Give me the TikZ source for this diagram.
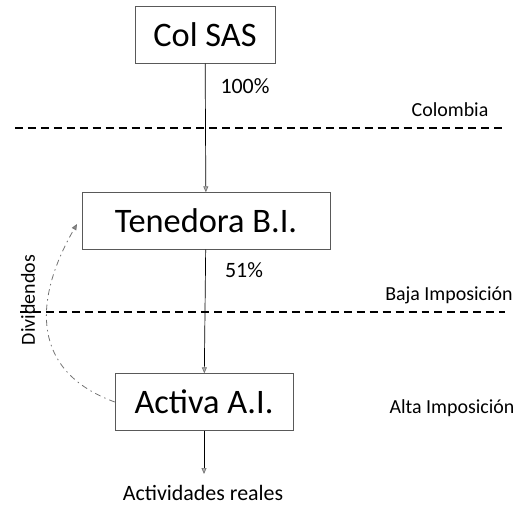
\documentclass[tikz,border=0pt]{standalone}
\usepackage{fontspec}
\setmainfont{Carlito}
\usetikzlibrary{arrows.meta}
\begin{document}
\begin{tikzpicture}[x=1bp,y=-1bp,font=\fontsize{20}{23}\selectfont,
	caja/.style={draw=black!65,thin,minimum height=57bp,inner sep=0pt,font=\fontsize{34.5}{40}\selectfont},
	flecha/.style={draw=black,line width=0.7pt,-{Triangle[length=6pt,width=5pt,fill=black!30,color=black!55]}},
	frontera/.style={black,line width=1.4pt,dash pattern=on 8pt off 5pt},
	divid/.style={black!55,thick,dash pattern=on 6pt off 4pt on 1.5pt off 4pt,-{Triangle[length=6pt,width=5pt,fill=black!45]}}]
	\useasboundingbox (0,0) rectangle (515,506);
	\path
	(205,35) node[caja,minimum width=140bp] (col) {Col SAS}
	(206,221) node[caja,minimum width=248bp] (ten) {Tenedora B.I.}
	(204,402) node[caja,minimum width=178bp] (act) {Activa A.I.}
	(203,493) node[font=\fontsize{22}{25}\selectfont] (real) {Actividades reales}
	(204,474) coordinate (R);
	\draw[flecha] (col) -- (ten);
	\draw[flecha] (ten) -- (act);
	\draw[flecha] (act) -- (R);
	\draw[frontera] (15,128) coordinate (L1) -- (505,128) coordinate (R1);
	\draw[frontera] (20,312) coordinate (L2) -- (505,312) coordinate (R2);
	\path[font=\fontsize{22}{25}\selectfont] (245,86) node (p1) {100\%} (244,270) node (p2) {51\%};
	\path (450,110) node (colo) {Colombia} (449,295) node (baja) {Baja Imposición}
	(452,408) node (alta) {Alta Imposición}
	(28,300) node[rotate=90] (div) {Dividendos};
	\draw[divid] (act.west) to[out=160,in=240,looseness=1.25] (77,224);
\end{tikzpicture}
\end{document}
